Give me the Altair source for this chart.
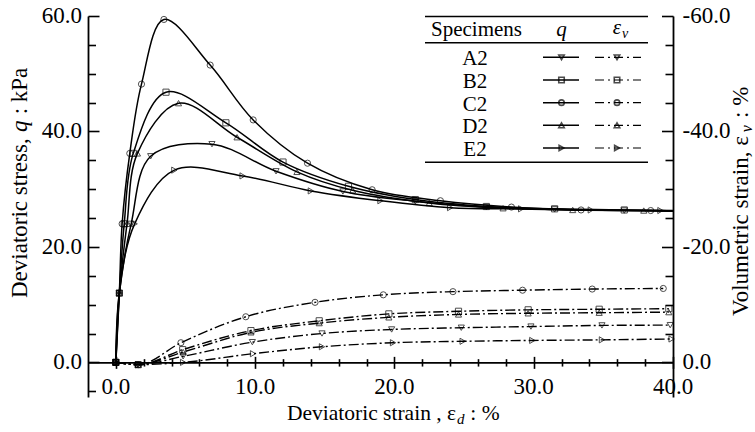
import altair as alt
import pandas as pd

FONT = "Liberation Serif"

specimens = ["A2", "B2", "C2", "D2", "E2"]
marker_shapes = ["triangle-down", "square", "circle", "triangle-up", "triangle-right"]

# Deviatoric stress q (kPa) against deviatoric strain (%)
a2_q_strain = [0.0, 0.25, 1.1, 2.5, 6.9, 11.5, 16.3, 21.5, 26.6, 31.5, 36.5]
a2_q = [0.0, 12.0, 24.0, 35.7, 37.8, 33.1, 29.6, 27.9, 26.9, 26.5, 26.3]
b2_q_strain = [0.0, 0.25, 0.6, 1.25, 3.6, 7.9, 12.0, 16.7, 21.5, 26.6, 31.5, 36.5]
b2_q = [0.0, 12.0, 24.0, 36.2, 46.8, 41.5, 34.7, 30.5, 28.2, 27.0, 26.6, 26.4]
c2_q_strain = [0.0, 0.25, 0.45, 1.0, 1.84, 3.45, 6.77, 9.86, 13.76, 18.4, 23.3, 28.4, 33.4, 38.4]
c2_q = [0.0, 12.0, 24.0, 36.2, 48.2, 59.4, 51.5, 42.0, 34.5, 29.9, 28.0, 26.9, 26.4, 26.3]
d2_q_strain = [0.0, 0.25, 0.8, 1.55, 4.5, 8.7, 13.0, 17.0, 22.5, 27.8, 32.8, 37.9]
d2_q = [0.0, 12.0, 24.0, 36.2, 44.9, 39.0, 33.0, 29.8, 27.6, 26.7, 26.4, 26.3]
e2_q_strain = [0.0, 0.25, 1.35, 4.2, 9.1, 14.0, 19.0, 24.0, 29.1, 34.1, 39.1]
e2_q = [0.0, 12.0, 24.0, 33.3, 32.3, 29.7, 28.0, 26.8, 26.6, 26.4, 26.3]
# stress at the final strain reading (end of each curve)
q_final_strain = 40.0
q_final = [26.2, 26.3, 26.2, 26.2, 26.2]

# Volumetric strain (%) against deviatoric strain (%), dilation negative
a2_ev_strain = [0.0, 1.6, 4.83, 9.8, 14.8, 19.8, 24.8, 29.8, 34.9, 39.8]
a2_ev = [0.0, 0.4, -1.05, -3.5, -5.0, -5.7, -6.0, -6.2, -6.4, -6.45]
b2_ev_strain = [0.0, 1.6, 4.8, 9.7, 14.6, 19.6, 24.6, 29.6, 34.7, 39.7]
b2_ev = [0.0, 0.4, -2.2, -5.5, -7.2, -8.4, -8.85, -9.1, -9.2, -9.3]
c2_ev_strain = [0.0, 1.6, 4.67, 9.33, 14.3, 19.2, 24.2, 29.2, 34.2, 39.3]
c2_ev = [0.0, 0.4, -3.4, -7.9, -10.4, -11.7, -12.25, -12.5, -12.7, -12.8]
d2_ev_strain = [0.0, 1.6, 4.83, 9.7, 14.6, 19.6, 24.6, 29.6, 34.7, 39.7]
d2_ev = [0.0, 0.4, -1.8, -5.2, -6.8, -7.8, -8.3, -8.5, -8.6, -8.7]
e2_ev_strain = [0.0, 1.6, 4.83, 9.85, 14.8, 19.9, 24.9, 29.9, 34.9, 39.9]
e2_ev = [0.0, 0.4, 0.0, -1.5, -2.7, -3.4, -3.65, -3.8, -3.9, -4.05]

# Axis tick values
x_label_values = [0, 10, 20, 30, 40]
x_minor_values = [v for v in range(2, 40, 2) if v % 10]
q_label_values = [0, 20, 40, 60]
q_minor_values = [v for v in range(-5, 60, 5) if v % 20]
ev_label_values = [-60, -40, -20, 0]
ev_minor_values = [v for v in range(-55, 0, 5) if v % 20]

q_series = {
    "A2": (a2_q_strain, a2_q), "B2": (b2_q_strain, b2_q), "C2": (c2_q_strain, c2_q),
    "D2": (d2_q_strain, d2_q), "E2": (e2_q_strain, e2_q),
}
ev_series = {
    "A2": (a2_ev_strain, a2_ev), "B2": (b2_ev_strain, b2_ev), "C2": (c2_ev_strain, c2_ev),
    "D2": (d2_ev_strain, d2_ev), "E2": (e2_ev_strain, e2_ev),
}

q_points = pd.DataFrame(
    [{"specimen": s, "strain": x, "q": y} for s in specimens for x, y in zip(*q_series[s])]
)
q_curve = pd.concat(
    [q_points, pd.DataFrame({"specimen": specimens, "strain": q_final_strain, "q": q_final})],
    ignore_index=True,
)
ev_points = pd.DataFrame(
    [{"specimen": s, "strain": x, "ev": y} for s in specimens for x, y in zip(*ev_series[s])]
)
legend_rows = pd.DataFrame({"specimen": specimens})


def tick_text(values):
    return pd.DataFrame({"v": values, "t": [f"{v:.1f}" for v in values]})


# Approximate advance widths (em) of the serif face, used to chain title pieces
ADV = {"D": .722, "e": .444, "v": .5, "i": .278, "a": .444, "t": .278, "o": .5, "r": .333,
       "c": .444, " ": .25, "s": .389, "n": .5, ",": .25, "ε": .44, "q": .5, ":": .278,
       "k": .5, "P": .556, "%": .833, "V": .722, "l": .278, "u": .5, "m": .778, "d": .5}


def text_width(s, size):
    return sum(ADV.get(ch, .5) for ch in s) * size


# Plot geometry
W, H = 585, 381
X_DOM = [-2, 40]
Q_DOM = [-6, 60]
EV_DOM = [-60, 6]
zero_below = H * (0 - Q_DOM[0]) / (Q_DOM[1] - Q_DOM[0])
zero_above = H - zero_below

x_scale = alt.Scale(domain=X_DOM, nice=False, zero=False)
q_scale = alt.Scale(domain=Q_DOM, nice=False, zero=False)
ev_scale = alt.Scale(domain=EV_DOM, nice=False, zero=False, reverse=True)
shape_scale = alt.Scale(domain=specimens, range=marker_shapes)

ink = dict(domainColor="black", tickColor="black", grid=False, domainWidth=1.8, tickWidth=1.6,
           labels=False, title=None)
bare = dict(domain=False, **ink)

# x axis sits on the zero line; ticks cross it (down from the bottom axes, up from the top ones)
x_axis_main = alt.Axis(orient="bottom", offset=-zero_below, values=x_label_values, tickSize=6, **ink)
x_axis_minor_down = alt.Axis(orient="bottom", offset=-zero_below, values=x_minor_values,
                             tickSize=3.7, **bare)
x_axis_major_up = alt.Axis(orient="top", offset=-zero_above, values=x_label_values,
                           tickSize=6, **bare)
x_axis_minor_up = alt.Axis(orient="top", offset=-zero_above, values=x_minor_values,
                           tickSize=3.7, **bare)

# left axis line; its ticks point into the plot
q_axis_main = alt.Axis(orient="left", values=q_label_values, ticks=False, **ink)
q_axis_major_in = alt.Axis(orient="right", offset=-W, values=q_label_values, tickSize=11, **bare)
q_axis_minor_in = alt.Axis(orient="right", offset=-W, values=q_minor_values, tickSize=7.5, **bare)

# right axis for volumetric strain (negative upwards)
ev_axis_main = alt.Axis(orient="right", values=ev_label_values, ticks=False, **ink)
ev_axis_major_in = alt.Axis(orient="left", offset=-W, values=ev_label_values, tickSize=11.5, **bare)
ev_axis_minor_in = alt.Axis(orient="left", offset=-W, values=ev_minor_values, tickSize=8, **bare)

DASH_DOT = [10, 3, 2, 3]
shape_enc = alt.Shape("specimen:N", scale=shape_scale, legend=None)

q_lines = alt.Chart(q_curve).mark_line(
    interpolate="catmull-rom", color="black", strokeWidth=1.5
).encode(
    x=alt.X("strain:Q", scale=x_scale, axis=x_axis_main),
    y=alt.Y("q:Q", scale=q_scale, axis=q_axis_main),
    detail="specimen:N",
)
q_marks = alt.Chart(q_points).mark_point(
    filled=False, color="black", size=38, strokeWidth=1
).encode(
    x=alt.X("strain:Q", scale=x_scale, axis=x_axis_minor_down),
    y=alt.Y("q:Q", scale=q_scale, axis=q_axis_major_in),
    shape=shape_enc,
)
q_ticks_layer = alt.Chart(q_points).mark_point(opacity=0).encode(
    x=alt.X("strain:Q", scale=x_scale, axis=x_axis_major_up),
    y=alt.Y("q:Q", scale=q_scale, axis=q_axis_minor_in),
)
ev_lines = alt.Chart(ev_points).mark_line(
    interpolate="monotone", color="black", strokeWidth=1.4, strokeDash=DASH_DOT
).encode(
    x=alt.X("strain:Q", scale=x_scale, axis=x_axis_minor_up),
    y=alt.Y("ev:Q", scale=ev_scale, axis=ev_axis_main),
    detail="specimen:N",
)
ev_marks = alt.Chart(ev_points).mark_point(
    filled=False, color="black", size=38, strokeWidth=1
).encode(
    x=alt.X("strain:Q", scale=x_scale, axis=None),
    y=alt.Y("ev:Q", scale=ev_scale, axis=ev_axis_major_in),
    shape=shape_enc,
)
ev_ticks_layer = alt.Chart(ev_points).mark_point(opacity=0).encode(
    x=alt.X("strain:Q", scale=x_scale, axis=None),
    y=alt.Y("ev:Q", scale=ev_scale, axis=ev_axis_minor_in),
)

# Tick labels, placed through the same scales
LABEL_SIZE = 23
x_tick_labels = alt.Chart(tick_text(x_label_values)).mark_text(
    font=FONT, fontSize=LABEL_SIZE, align="center", baseline="alphabetic", color="black"
).encode(x=alt.X("v:Q", scale=x_scale, axis=None), y=alt.value(zero_above + 31.5), text="t:N")
q_tick_labels = alt.Chart(tick_text(q_label_values)).mark_text(
    font=FONT, fontSize=LABEL_SIZE, align="right", baseline="middle", color="black"
).encode(x=alt.value(-6), y=alt.Y("v:Q", scale=q_scale, axis=None), text="t:N")
ev_tick_labels = alt.Chart(tick_text(ev_label_values)).mark_text(
    font=FONT, fontSize=LABEL_SIZE, align="left", baseline="middle", color="black"
).encode(x=alt.value(W + 9.5), y=alt.Y("v:Q", scale=ev_scale, axis=None), text="t:N")


def piece(label, xpos, ypos, size=21, style="normal", align="left", angle=0, dy=0):
    return alt.Chart(pd.DataFrame({"t": [label]})).mark_text(
        font=FONT, fontSize=size, fontStyle=style, align=align, baseline="alphabetic",
        angle=angle, dy=dy, color="black"
    ).encode(x=alt.value(xpos), y=alt.value(ypos), text="t:N")


def chained(parts, x0, y0, vertical):
    """Lay out (text, size, style, dy) pieces one after another, left-to-right or bottom-to-top.
    Leading blanks become an advance, since SVG drops them."""
    layers, pos = [], (y0 if vertical else x0)
    for text, size, style, shift in parts:
        body = text.lstrip(" ")
        lead = text_width(text[: len(text) - len(body)], size)
        step = lead + text_width(body, size) + 0.5
        if vertical:
            layers.append(piece(body, x0, pos - lead, size=size, style=style, angle=270, dy=shift))
            pos -= step
        else:
            layers.append(piece(body, pos + lead, y0, size=size, style=style, dy=shift))
            pos += step
    return layers


X_T, LEFT_T, RIGHT_T = 21.5, 23, 23
title_layers = (
    chained([("Deviatoric strain , ε", X_T, "normal", 0), ("d", 15, "italic", 4),
             (" : %", X_T, "normal", 0)], 199, 404, vertical=False)
    + chained([("Deviatoric stress, ", LEFT_T, "normal", 0), ("q", LEFT_T, "italic", 0),
               (" : kPa", LEFT_T, "normal", 0)], -61, 282, vertical=True)
    + chained([("Volumetric strain, ε", RIGHT_T, "normal", 0), ("v", 16, "italic", 4),
               (" : %", RIGHT_T, "normal", 0)], 660, 300, vertical=True)
)

# Legend table (top right)
row_y = alt.Y("specimen:N", axis=None,
              scale=alt.Scale(type="point", domain=specimens, range=[41.3, 132], padding=0))
legend_base = alt.Chart(legend_rows)
leg_names = legend_base.mark_text(font=FONT, fontSize=21, align="center", baseline="middle",
                                  dy=2, color="black").encode(
    x=alt.value(387), y=row_y, text="specimen:N")
leg_q_line = legend_base.mark_rule(color="black", strokeWidth=1.5).encode(
    x=alt.value(455), x2=alt.value(491), y=row_y)
leg_q_mark = legend_base.mark_point(filled=False, color="black", size=30, strokeWidth=1.6).encode(
    x=alt.value(473.5), y=row_y, shape=shape_enc)
leg_ev_line = legend_base.mark_rule(color="black", strokeWidth=1.2, strokeDash=[9, 4, 2, 4]).encode(
    x=alt.value(507), x2=alt.value(553), y=row_y)
leg_ev_mark = legend_base.mark_point(filled=False, color="black", size=30, strokeWidth=1.6).encode(
    x=alt.value(529), y=row_y, shape=shape_enc)


def table_rule(ypos):
    return alt.Chart(pd.DataFrame({"r": [0]})).mark_rule(color="black", strokeWidth=1.4).encode(
        x=alt.value(337), x2=alt.value(560), y=alt.value(ypos))


legend_layers = [
    table_rule(0.5), table_rule(26.7), table_rule(146.3),
    piece("Specimens", 388.5, 20, size=21, align="center"),
    piece("q", 473.5, 20, size=21, style="italic", align="center"),
    piece("ε", 529, 18, size=21, style="italic", align="center"),
    piece("v", 534, 22, size=14, style="italic"),
    leg_names, leg_q_line, leg_ev_line, leg_q_mark, leg_ev_mark,
]

chart = alt.layer(
    q_lines, q_marks, q_ticks_layer, ev_lines, ev_marks, ev_ticks_layer,
    x_tick_labels, q_tick_labels, ev_tick_labels, *title_layers, *legend_layers
).resolve_scale(
    y="independent"
).resolve_axis(
    x="independent", y="independent"
).properties(
    width=W, height=H,
    autosize=alt.AutoSizeParams(type="none"),
    padding={"left": 88, "top": 16, "right": 755 - 88 - W, "bottom": 432 - 16 - H},
    background="white",
).configure_view(stroke=None)

chart.save("out.html", embed_options={"renderer": "svg", "actions": False})
